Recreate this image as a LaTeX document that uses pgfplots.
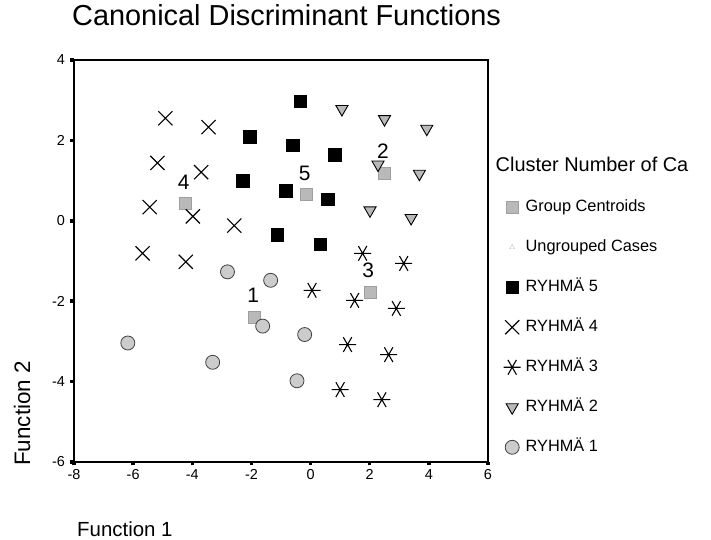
\documentclass[border=0pt]{standalone}
\usepackage{fontspec}
\setmainfont{Liberation Sans}
\usepackage{pgfplots}
\pgfplotsset{compat=1.18}
\begin{document}
\begin{tikzpicture}
\begin{axis}[
    name=ax,
    scale only axis,
    width=414bp, height=402bp,
    xmin=-8, xmax=6, ymin=-6, ymax=4,
    xtick={-8,-6,...,6}, ytick={-6,-4,...,4},
    /pgf/number format/assume math mode=true,
    xticklabel style={font=\fontsize{14.5}{14.5}\selectfont, anchor=north,
        text height=10.5bp, text depth=0bp},
    yticklabel style={font=\fontsize{14.5}{14.5}\selectfont, xshift=-2bp},
    tick pos=left,
    tick align=outside,
    major tick length=3.5bp,
    major tick style={black, line width=3.5bp},
    axis line style={black, line width=1.6bp},
    title={Canonical Discriminant Functions},
    title style={at={(axis description cs:0,1)}, anchor=base west, xshift=-2bp, yshift=29bp,
        font=\fontsize{29}{29}\selectfont, inner sep=0pt},
    xlabel={Function 1},
    xlabel style={at={(axis description cs:0,0)}, anchor=base west, xshift=3bp, yshift=-75bp,
        font=\fontsize{20.5}{20.5}\selectfont, inner sep=0pt},
    ylabel={Function 2},
    ylabel style={at={(axis description cs:-0.106,-0.01)}, anchor=base west,
        font=\fontsize{22.5}{22.5}\selectfont, inner sep=0pt},
    legend cell align=left,
    legend style={at={(axis description cs:1.0374,0.756)}, anchor=north west,
        draw=none, fill=none, inner sep=0pt, row sep=22bp,
        font=\fontsize{16.4}{16.4}\selectfont,
        nodes={text height=11bp, text depth=3bp, inner sep=2bp},
        /tikz/every odd column/.append style={column sep=3bp}},
]
\addlegendimage{empty legend}
\addlegendentry{\hspace*{-30bp}\fontsize{20}{20}\selectfont Cluster Number of Ca}

% group centroids
\addplot[only marks, mark=square*, mark size=6bp,
    mark options={fill=gray!55, draw=gray!75},
    point meta=explicit symbolic,
    nodes near coords,
    every node near coord/.append style={anchor=base, yshift=14bp, xshift=-1.5bp,
        font=\fontsize{21}{21}\selectfont, inner sep=0pt, text=black}]
coordinates {(-4.24,0.43) [4] (-1.89,-2.39) [1] (-0.15,0.65) [5] (2.50,1.19) [2] (2.00,-1.77) [3]};
\addlegendentry{Group Centroids}

\addlegendimage{only marks, mark=triangle, mark size=3bp, gray!50}
\addlegendentry{Ungrouped Cases}

% RYHMA 5
\addplot[only marks, mark=square*, mark size=6.3bp, black]
coordinates {(-0.35,2.98) (-2.06,2.09) (-0.60,1.88) (0.81,1.65) (-2.30,1.00)
    (-0.84,0.75) (0.57,0.54) (-1.13,-0.35) (0.33,-0.58)};
\addlegendentry{RYHMÄ 5}

% RYHMA 4
\addplot[only marks, mark=x, mark size=10bp, black, mark options={line width=1.1bp}]
coordinates {(-4.91,2.55) (-3.45,2.33) (-5.18,1.44) (-3.70,1.21) (-5.44,0.34)
    (-3.98,0.11) (-2.58,-0.12) (-5.68,-0.81) (-4.22,-1.02)};
\addlegendentry{RYHMÄ 4}

% RYHMA 3
\addplot[only marks, mark=asterisk, mark size=8.5bp, black, mark options={rotate=90, line width=1.1bp}]
coordinates {(1.76,-0.81) (3.15,-1.06) (0.05,-1.73) (1.49,-1.98) (2.90,-2.18)
    (1.25,-3.08) (2.64,-3.33) (1.00,-4.20) (2.41,-4.45)};
\addlegendentry{RYHMÄ 3}

% RYHMA 2
\addplot[only marks, mark=triangle*, mark size=7bp,
    mark options={rotate=180, fill=gray!55, draw=black, line width=0.9bp}]
coordinates {(1.06,2.78) (2.50,2.53) (3.93,2.29) (2.28,1.40) (3.68,1.17)
    (2.01,0.26) (3.40,0.07)};
\addlegendentry{RYHMÄ 2}

% RYHMA 1
\addplot[only marks, mark=*, mark size=7bp,
    mark options={fill=gray!40, draw=gray!50!black, line width=0.8bp}]
coordinates {(-2.81,-1.27) (-1.35,-1.48) (-1.62,-2.62) (-6.18,-3.04)
    (-3.31,-3.52) (-0.20,-2.83) (-0.46,-3.98)};
\addlegendentry{RYHMÄ 1}
\end{axis}
\pgfresetboundingbox
\path[use as bounding box] ([xshift=-74bp,yshift=-78bp]ax.south west)
    rectangle ([xshift=223bp,yshift=60bp]ax.north east);
\end{tikzpicture}
\end{document}
